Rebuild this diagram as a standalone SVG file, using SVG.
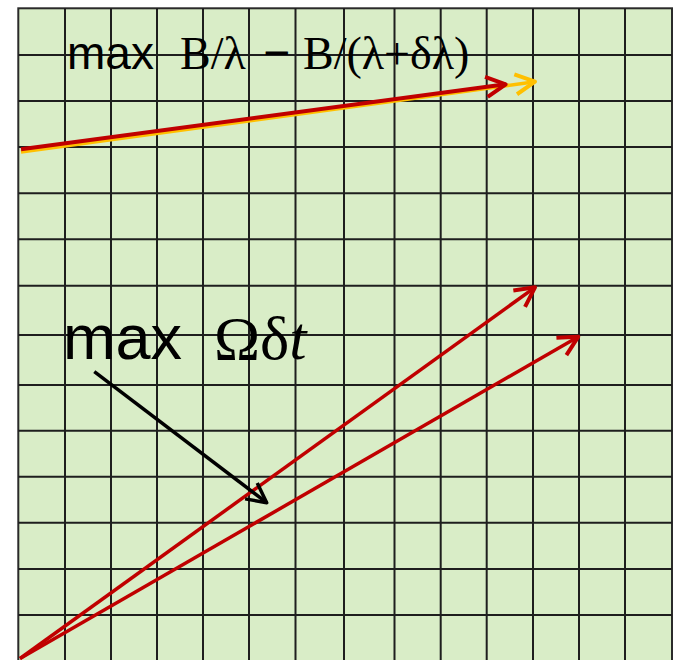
<svg xmlns="http://www.w3.org/2000/svg" width="675" height="660" viewBox="0 0 675 660">
  <style>
    .grid line { stroke: #1e1e1e; stroke-width: 2; }
    .sans { font-family: "Liberation Sans", Arial, sans-serif; fill: #000; }
    .serif { font-family: "Liberation Serif", "Times New Roman", serif; fill: #000; }
    .red { stroke: #C00000; fill: none; }
    .yellow { stroke: #FFC000; fill: none; }
    .black { stroke: #000; fill: none; }
  </style>
  <defs>
    <marker id="headRed" markerUnits="userSpaceOnUse" orient="auto" refX="0" refY="0" markerWidth="40" markerHeight="40" viewBox="-30 -15 40 30" overflow="visible">
      <path d="M -19.5 -10 L 0 0 L -19.5 10" fill="none" stroke="#C00000" stroke-width="4" stroke-linejoin="round"/>
    </marker>
    <marker id="headYellow" markerUnits="userSpaceOnUse" orient="auto" refX="0" refY="0" markerWidth="40" markerHeight="40" viewBox="-30 -15 40 30" overflow="visible">
      <path d="M -19.5 -10 L 0 0 L -19.5 10" fill="none" stroke="#FFC000" stroke-width="4" stroke-linejoin="round"/>
    </marker>
    <marker id="headBlack" markerUnits="userSpaceOnUse" orient="auto" refX="0" refY="0" markerWidth="40" markerHeight="40" viewBox="-30 -15 40 30" overflow="visible">
      <path d="M -19.5 -10 L 0 0 L -19.5 10" fill="none" stroke="#000" stroke-width="3.5" stroke-linejoin="round"/>
    </marker>
  </defs>

  <rect x="0" y="0" width="675" height="660" fill="#ffffff"/>

  <g id="grid" class="grid">
    <rect x="18.3" y="8.3" width="653.7" height="660" fill="#D9EDC7" stroke="#2a2a2a" stroke-width="2"/>
    <line x1="65" y1="8.3" x2="65" y2="660"/>
    <line x1="111" y1="8.3" x2="111" y2="660"/>
    <line x1="157" y1="8.3" x2="157" y2="660"/>
    <line x1="203" y1="8.3" x2="203" y2="660"/>
    <line x1="249" y1="8.3" x2="249" y2="660"/>
    <line x1="295.5" y1="8.3" x2="295.5" y2="660"/>
    <line x1="344" y1="8.3" x2="344" y2="660"/>
    <line x1="394.5" y1="8.3" x2="394.5" y2="660"/>
    <line x1="440.7" y1="8.3" x2="440.7" y2="660"/>
    <line x1="486.7" y1="8.3" x2="486.7" y2="660"/>
    <line x1="533" y1="8.3" x2="533" y2="660"/>
    <line x1="579" y1="8.3" x2="579" y2="660"/>
    <line x1="625" y1="8.3" x2="625" y2="660"/>
    <line x1="18.3" y1="55" x2="672" y2="55"/>
    <line x1="18.3" y1="101" x2="672" y2="101"/>
    <line x1="18.3" y1="147" x2="672" y2="147"/>
    <line x1="18.3" y1="193.3" x2="672" y2="193.3"/>
    <line x1="18.3" y1="239.3" x2="672" y2="239.3"/>
    <line x1="18.3" y1="285.7" x2="672" y2="285.7"/>
    <line x1="18.3" y1="335" x2="672" y2="335"/>
    <line x1="18.3" y1="385" x2="672" y2="385"/>
    <line x1="18.3" y1="430.7" x2="672" y2="430.7"/>
    <line x1="18.3" y1="476.7" x2="672" y2="476.7"/>
    <line x1="18.3" y1="522.7" x2="672" y2="522.7"/>
    <line x1="18.3" y1="569" x2="672" y2="569"/>
    <line x1="18.3" y1="615" x2="672" y2="615"/>
  </g>

  <g id="label-top">
    <text class="sans" x="67" y="69" font-size="46">max</text>
    <text class="serif" x="180" y="69" font-size="46">B/λ</text>
    <text class="serif" x="263" y="69" font-size="48" font-weight="bold">−</text>
    <text class="serif" x="303" y="69" font-size="46">B/(λ+δλ)</text>
  </g>

  <g id="label-omega">
    <text class="sans" x="63" y="359" font-size="63">max</text>
    <text class="serif" x="214" y="359" font-size="62">Ωδ<tspan font-style="italic">t</tspan></text>
  </g>

  <g id="connectors">
    <line class="yellow" x1="21" y1="152" x2="535" y2="81.7" stroke-width="3.5" marker-end="url(#headYellow)"/>
    <line class="red" x1="21" y1="149.3" x2="505.7" y2="84.3" stroke-width="4" marker-end="url(#headRed)"/>
    <line class="red" x1="20" y1="658.5" x2="535" y2="287.3" stroke-width="3.5" marker-end="url(#headRed)"/>
    <line class="red" x1="20" y1="658.5" x2="578.3" y2="336.7" stroke-width="3.5" marker-end="url(#headRed)"/>
    <line class="black" x1="94.3" y1="371.7" x2="266.7" y2="502.7" stroke-width="3.5" marker-end="url(#headBlack)"/>
  </g>
</svg>
